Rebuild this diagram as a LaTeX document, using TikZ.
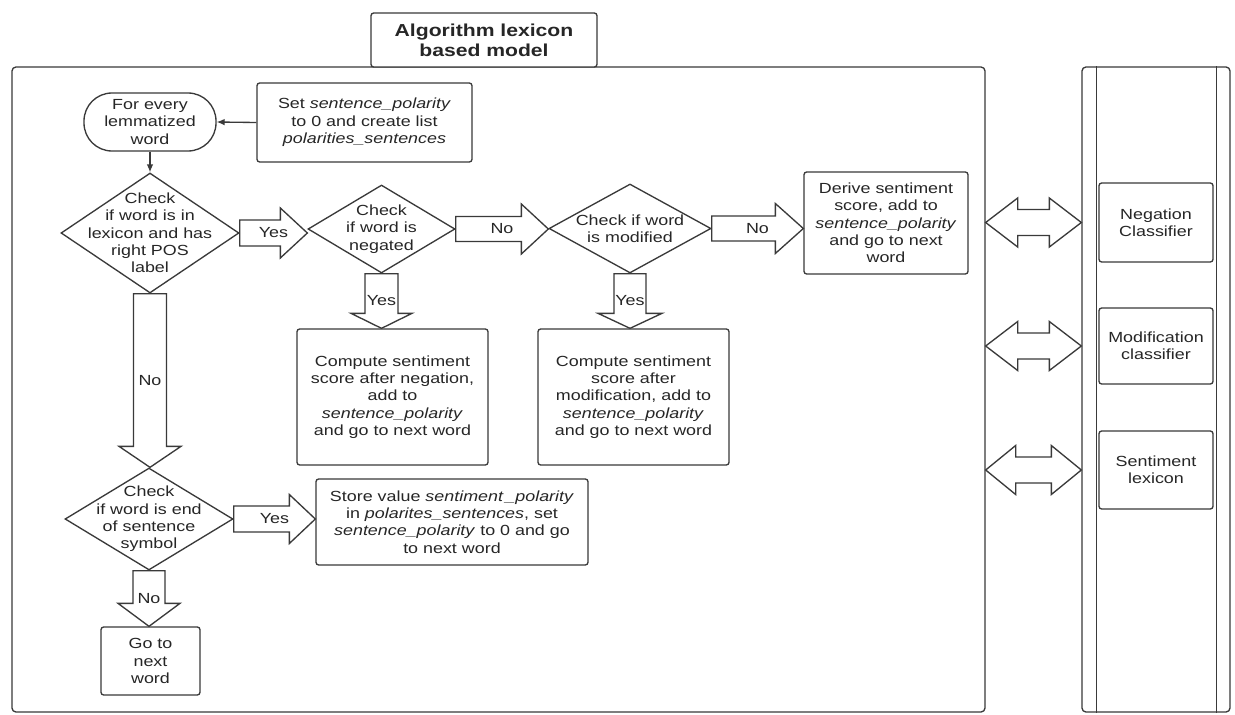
\documentclass[tikz,border=0pt]{standalone}
\usepackage{fontspec}
\setmainfont{Liberation Sans}[FakeStretch=1.22]
\usetikzlibrary{shapes.geometric,calc,arrows.meta}
\definecolor{ln}{HTML}{3A3A3A}
\definecolor{tx}{HTML}{262626}
\newcommand\hblk[6]{%
\draw[blk] let \p1=(#1), \p2=(#2) in
 (\x1,\y1+#3*0.75pt) -- (\x2-#5*0.75pt,\y1+#3*0.75pt) -- (\x2-#5*0.75pt,\y1+#4*0.75pt) -- (\x2,\y1)
 -- (\x2-#5*0.75pt,\y1-#4*0.75pt) -- (\x2-#5*0.75pt,\y1-#3*0.75pt) -- (\x1,\y1-#3*0.75pt) -- cycle
 (\x1*0.5+\x2*0.5,\y1) node[lbl]{#6};}
\newcommand\vblk[6]{%
\draw[blk] let \p1=(#1), \p2=(#2) in
 (\x1-#3*0.75pt,\y1) -- (\x1-#3*0.75pt,\y2+#5*0.75pt) -- (\x1-#4*0.75pt,\y2+#5*0.75pt) -- (\x1,\y2)
 -- (\x1+#4*0.75pt,\y2+#5*0.75pt) -- (\x1+#3*0.75pt,\y2+#5*0.75pt) -- (\x1+#3*0.75pt,\y1) -- cycle
 (\x1,\y1*0.5+\y2*0.5) node[lbl]{#6};}
\newcommand\dblk[5]{%
\draw[blk] let \p1=(#1), \p2=(#2) in
 (\x1,\y1) -- (\x1+#5*0.75pt,\y1+#4*0.75pt) -- (\x1+#5*0.75pt,\y1+#3*0.75pt) -- (\x2-#5*0.75pt,\y1+#3*0.75pt)
 -- (\x2-#5*0.75pt,\y1+#4*0.75pt) -- (\x2,\y1) -- (\x2-#5*0.75pt,\y1-#4*0.75pt) -- (\x2-#5*0.75pt,\y1-#3*0.75pt)
 -- (\x1+#5*0.75pt,\y1-#3*0.75pt) -- (\x1+#5*0.75pt,\y1-#4*0.75pt) -- cycle;}
\begin{document}
\begin{tikzpicture}[x=0.75pt,y=-0.75pt,
  every node/.style={text=tx},
  txt/.style={font=\fontsize{11}{13}\selectfont, align=center},
  box/.style={draw=ln, line width=1pt, rounded corners=2pt, inner sep=1pt, txt},
  dia/.style={draw=ln, line width=1pt, diamond, inner sep=0pt},
  lbl/.style={txt, inner sep=0pt},
  blk/.style={draw=ln, line width=1pt, fill=white, line join=miter},
  arr/.style={draw=ln, line width=1pt, -{Latex[length=6pt,width=5pt]}}]
\useasboundingbox (0,0) rectangle (1235,714);
\fill[white] (0,0) rectangle (1235,714);
% containers
\node[draw=ln, line width=1pt, rounded corners=3pt, minimum width=973*0.75pt, minimum height=645*0.75pt, inner sep=0pt] (main) at (498.5,389.5) {};
\node[draw=ln, line width=1pt, rounded corners=3pt, minimum width=148*0.75pt, minimum height=645*0.75pt, inner sep=0pt] (panel) at (1156,389.5) {};
\draw[ln, line width=1pt] ([xshift=15*0.75pt]panel.north west) -- ([xshift=15*0.75pt]panel.south west);
\draw[ln, line width=1pt] ([xshift=-14*0.75pt]panel.north east) -- ([xshift=-14*0.75pt]panel.south east);
\node[box, fill=white, font=\fontsize{13}{15}\selectfont\bfseries, minimum width=226*0.75pt, minimum height=54*0.75pt] (title) at (484,40) {Algorithm lexicon\\based model};
% flow nodes
\node[box, rounded corners=21pt, minimum width=132*0.75pt, minimum height=58*0.75pt] (start) at (150,122) {For every\\lemmatized\\word};
\node[box, minimum width=215*0.75pt, minimum height=79*0.75pt] (set) at (364.5,122.5) {Set \textit{sentence\_polarity}\\to 0 and create list\\\textit{polarities\_sentences}};
\node[dia, minimum width=178*0.75pt, minimum height=120*0.75pt, label={[lbl]center:Check\\if word is in\\lexicon and has\\right POS\\label}] (d1) at (150,233) {};
\node[dia, minimum width=147*0.75pt, minimum height=88*0.75pt, label={[lbl]center:Check\\if word is\\negated}] (d2) at (381.5,229) {};
\node[dia, minimum width=162*0.75pt, minimum height=89*0.75pt, label={[lbl]center:Check if word\\is modified}] (d3) at (630,228.5) {};
\node[box, minimum width=164*0.75pt, minimum height=102*0.75pt] (derive) at (886,223) {Derive sentiment\\score, add to\\\textit{sentence\_polarity}\\and go to next\\word};
\node[box, minimum width=191*0.75pt, minimum height=136*0.75pt] (cn) at (392.5,397) {Compute sentiment\\score after negation,\\add to\\\textit{sentence\_polarity}\\and go to next word};
\node[box, minimum width=191*0.75pt, minimum height=136*0.75pt] (cm) at (633.5,397) {Compute sentiment\\score after\\modification, add to\\\textit{sentence\_polarity}\\and go to next word};
\node[dia, minimum width=168*0.75pt, minimum height=102*0.75pt, label={[lbl]center:Check\\if word is end\\of sentence\\symbol}] (d4) at (149,519) {};
\node[box, minimum width=272*0.75pt, minimum height=86*0.75pt] (store) at (452,522) {Store value \textit{sentiment\,\_polarity}\\in \textit{polarites\_sentences}, set\\\textit{sentence\_polarity} to 0 and go\\to next word};
\node[box, minimum width=99*0.75pt, minimum height=68*0.75pt] (go) at (150.5,661) {Go to\\next\\word};
% side components
\node[box, minimum width=114*0.75pt, minimum height=79*0.75pt] (neg) at (1156,222.5) {Negation\\Classifier};
\node[box, minimum width=114*0.75pt, minimum height=76*0.75pt] (mod) at (1156,346) {Modification\\classifier};
\node[box, minimum width=114*0.75pt, minimum height=78*0.75pt] (lex) at (1156,470) {Sentiment\\lexicon};
% connectors
\draw[arr] (set.west) -- (start.east);
\draw[arr] (start.south) -- (d1.north);
\hblk{d1.east}{d2.west}{13}{25}{27}{Yes}
\hblk{d2.east}{d3.west}{12.5}{25}{27}{No}
\hblk{d3.east}{derive.west}{12.5}{25}{28}{No}
\vblk{d2.south}{cn.north}{16.5}{30.5}{15}{Yes}
\vblk{d3.south}{cm.north}{16}{32}{15}{Yes}
\vblk{d1.south}{d4.north}{16.5}{31}{21}{No}
\hblk{d4.east}{store.west}{13}{24.5}{26}{Yes}
\vblk{d4.south}{go.north}{16}{31}{23}{No}
\dblk{main.east |- neg.west}{panel.west |- neg.west}{13}{24.5}{32}
\dblk{main.east |- mod.west}{panel.west |- mod.west}{13}{24.5}{32}
\dblk{main.east |- lex.west}{panel.west |- lex.west}{13}{24.5}{30}
\end{tikzpicture}
\end{document}
